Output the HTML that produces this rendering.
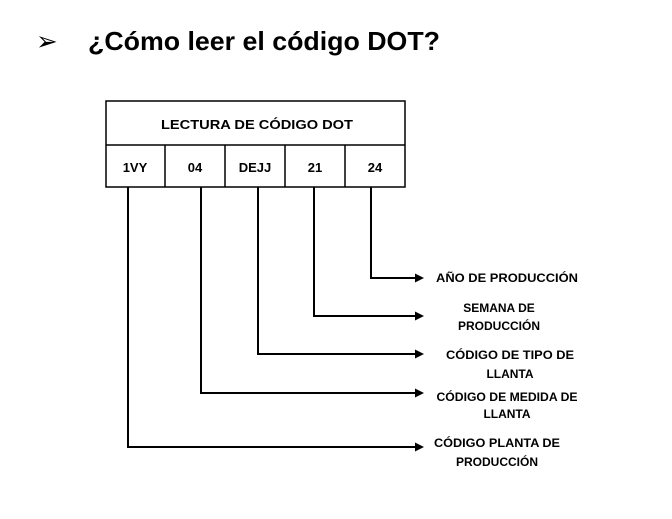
<!DOCTYPE html>
<html><head><meta charset="utf-8"><style>
body{margin:0;width:672px;height:514px;background:#fff;overflow:hidden}
</style></head><body>
<svg width="672" height="514" xmlns="http://www.w3.org/2000/svg" font-family="Liberation Sans, sans-serif">
<text x="36" y="50" font-size="26" fill="#000">➢</text>
<text x="88" y="50" font-size="26" font-weight="bold" fill="#000" textLength="352" lengthAdjust="spacingAndGlyphs">¿Cómo leer el código DOT?</text>
<g stroke="#000" stroke-width="1.5" fill="none">
<rect x="106" y="101" width="299" height="86"/>
<line x1="106" y1="145" x2="405" y2="145"/>
<line x1="165" y1="145" x2="165" y2="187"/>
<line x1="225" y1="145" x2="225" y2="187"/>
<line x1="285" y1="145" x2="285" y2="187"/>
<line x1="345" y1="145" x2="345" y2="187"/>
<g stroke-width="2">
<polyline points="371,187 371,278 418,278"/>
<polyline points="314,187 314,316 418,316"/>
<polyline points="258,187 258,354 418,354"/>
<polyline points="201,187 201,393 418,393"/>
<polyline points="128,187 128,447 418,447"/>
</g>
</g>
<g fill="#000">
<polygon points="424,278 415,273.5 415,282.5"/>
<polygon points="424,316 415,311.5 415,320.5"/>
<polygon points="424,354 415,349.5 415,358.5"/>
<polygon points="424,393 415,388.5 415,397.5"/>
<polygon points="424,447 415,442.5 415,451.5"/>
</g>
<g font-size="13" font-weight="bold" text-anchor="middle" fill="#000">
<text x="257" y="129" textLength="192" lengthAdjust="spacingAndGlyphs">LECTURA DE CÓDIGO DOT</text>
<text x="135" y="172">1VY</text>
<text x="195" y="172">04</text>
<text x="255" y="172">DEJJ</text>
<text x="315" y="172">21</text>
<text x="375" y="172">24</text>
</g>
<g font-size="12" font-weight="bold" text-anchor="middle" fill="#000">
<text x="507" y="282" textLength="142" lengthAdjust="spacingAndGlyphs">AÑO DE PRODUCCIÓN</text>
<text x="499" y="312">SEMANA DE</text>
<text x="499" y="330">PRODUCCIÓN</text>
<text x="510" y="359" textLength="128" lengthAdjust="spacingAndGlyphs">CÓDIGO DE TIPO DE</text>
<text x="510" y="378">LLANTA</text>
<text x="507" y="401" textLength="141" lengthAdjust="spacingAndGlyphs">CÓDIGO DE MEDIDA DE</text>
<text x="507" y="418">LLANTA</text>
<text x="497" y="447" textLength="126" lengthAdjust="spacingAndGlyphs">CÓDIGO PLANTA DE</text>
<text x="497" y="466">PRODUCCIÓN</text>
</g>
</svg>
</body></html>
